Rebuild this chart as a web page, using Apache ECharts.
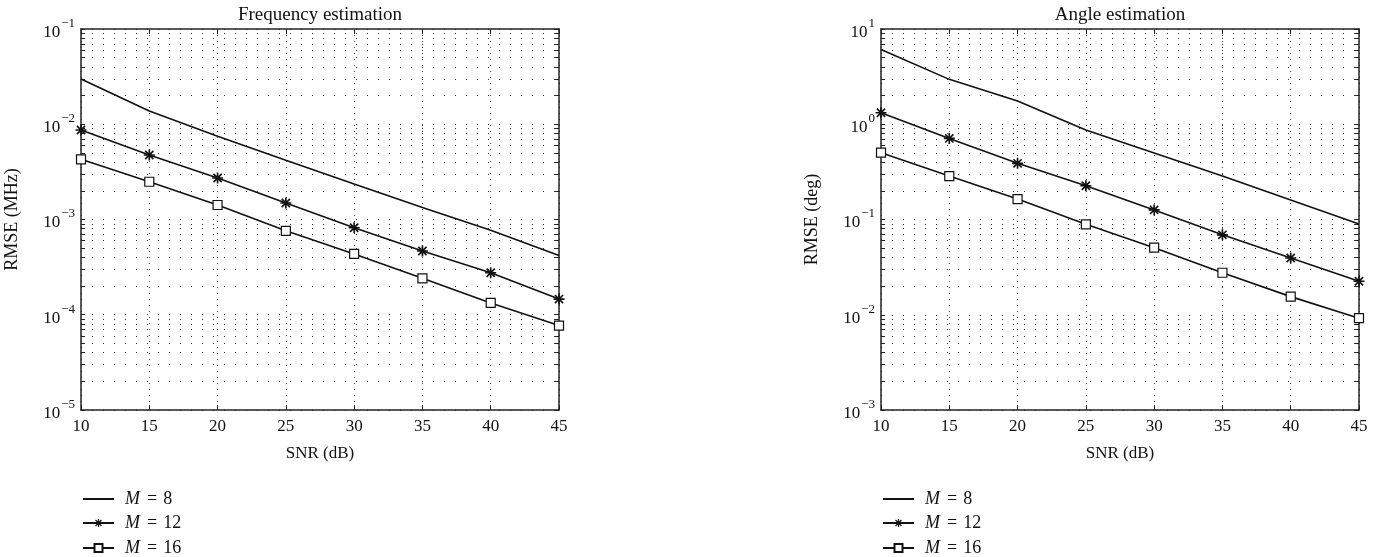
<!DOCTYPE html>
<html>
<head>
<meta charset="utf-8">
<script src="https://cdn.jsdelivr.net/npm/echarts@6/dist/echarts.min.js"></script>
<style>
html,body{margin:0;padding:0;background:#fff;}
#c{width:1375px;height:557px;}
</style>
</head>
<body>
<div id="c"></div>
<script>
// ---- data ----
const snr = [10, 15, 20, 25, 30, 35, 40, 45];
const seriesNames = ['M = 8', 'M = 12', 'M = 16'];

const freqM8  = [0.0299, 0.0138, 0.0075, 0.0042, 0.00236, 0.00134, 0.00077, 0.00042];
const freqM12 = [0.0087, 0.00475, 0.00273, 0.00149, 0.00082, 0.000467, 0.000276, 0.000146];
const freqM16 = [0.00428, 0.00249, 0.00142, 0.00076, 0.000435, 0.000241, 0.000133, 0.000077];

const angM8  = [6.1, 2.96, 1.75, 0.87, 0.50, 0.286, 0.160, 0.0897];
const angM12 = [1.32, 0.71, 0.389, 0.226, 0.126, 0.069, 0.0394, 0.0225];
const angM16 = [0.503, 0.286, 0.164, 0.089, 0.0506, 0.0276, 0.0155, 0.0092];

const xTicks = [10, 15, 20, 25, 30, 35, 40, 45];
const freqDecades = [1e-5, 1e-4, 1e-3, 1e-2, 1e-1];
const angDecades  = [1e-3, 1e-2, 1e-1, 1, 10];

const titles = ['Frequency estimation', 'Angle estimation'];
const yNames = ['RMSE (MHz)', 'RMSE (deg)'];
const xName = 'SNR (dB)';

// ---- helpers ----
function withMinors(decades) {
  const out = [];
  for (let i = 0; i < decades.length; i++) {
    out.push(decades[i]);
    if (i < decades.length - 1) {
      for (let k = 2; k <= 9; k++) out.push(+(decades[i] * k).toPrecision(3));
    }
  }
  return out;
}
function pairs(ys) { return snr.map((x, i) => [x, ys[i]]); }

const FONT = '"Liberation Serif", "DejaVu Serif", serif';
const starPath = 'path://M8.5,0 h3 v20 h-3 z M0,8.5 h20 v3 h-20 z M1.5,3.6 L3.6,1.5 L18.5,16.4 L16.4,18.5 Z M16.4,1.5 L18.5,3.6 L3.6,18.5 L1.5,16.4 Z';

function supLabel(v) {
  const e = Math.round(Math.log10(v));
  const s = e < 0 ? '\u2212' + (-e) : String(e);
  return '{b|10}{e|' + s + '}';
}
const supRich = {
  b: { fontFamily: FONT, fontSize: 17, color: '#111', lineHeight: 24, verticalAlign: 'bottom' },
  e: { fontFamily: FONT, fontSize: 13, color: '#111', lineHeight: 14, verticalAlign: 'top', padding: [0, 0, 0, 1] }
};

const gridLefts = [81, 881];
const legendRowCenters = [497, 521, 546];
const decadesList = [freqDecades, angDecades];
const dataList = [[freqM8, freqM12, freqM16], [angM8, angM12, angM16]];

const legends = [];
gridLefts.forEach(l => {
  seriesNames.forEach((n, k) => {
    legends.push({
      orient: 'vertical', left: l + 1, top: legendRowCenters[k] - 7, padding: 0,
      itemWidth: 31, itemHeight: 10, itemGap: 0,
      data: [n],
      formatter: s => '{i|M}{q|=}{t|' + s.split('= ')[1] + '}',
      textStyle: {
        padding: [0, 0, 0, 6],
        rich: {
          i: { fontFamily: FONT, fontSize: 18, lineHeight: 14, fontStyle: 'italic', color: '#111' },
          q: { fontFamily: FONT, fontSize: 18, lineHeight: 14, color: '#111', padding: [0, 6, 0, 7] },
          t: { fontFamily: FONT, fontSize: 18, lineHeight: 14, color: '#111' }
        }
      },
      selectedMode: false
    });
  });
});

const option = {
  animation: false,
  backgroundColor: '#fff',
  title: titles.map((t, i) => ({
    text: t, left: gridLefts[i] + 239, top: 6, textAlign: 'center', padding: 0,
    textStyle: { fontFamily: FONT, fontSize: 19, fontWeight: 'normal', color: '#111' }
  })),
  grid: gridLefts.map(l => ({ left: l, top: 29, width: 478, height: 381 })),
  legend: legends,
  xAxis: [],
  yAxis: [],
  series: []
};

[0, 1].forEach(g => {
  const decs = decadesList[g];
  const all = withMinors(decs);
  option.xAxis.push({
    type: 'value', gridIndex: g, min: 10, max: 45, interval: 5, position: 'bottom',
    name: xName, nameLocation: 'middle', nameGap: 35,
    nameTextStyle: { fontFamily: FONT, fontSize: 17, color: '#111' },
    axisLine: { show: true, onZero: false, lineStyle: { color: '#222', width: 1.5 } },
    axisTick: { show: true, inside: true, length: 5, lineStyle: { color: '#222' } },
    axisLabel: { fontFamily: FONT, fontSize: 17, color: '#111', margin: 8, customValues: xTicks },
    splitLine: { show: true, lineStyle: { color: '#444', type: [1, 5], width: 1 } }
  });
  option.xAxis.push({
    type: 'value', gridIndex: g, min: 10, max: 45, interval: 5, position: 'top',
    axisLine: { show: true, onZero: false, lineStyle: { color: '#222', width: 1.5 } },
    axisTick: { show: true, inside: true, length: 5, lineStyle: { color: '#222' } },
    axisLabel: { show: false }, splitLine: { show: false }
  });
  option.yAxis.push({
    type: 'log', logBase: 10, gridIndex: g, min: decs[0], max: decs[decs.length - 1], position: 'left',
    name: yNames[g], nameLocation: 'middle', nameGap: 60, nameRotate: 90,
    nameTextStyle: { fontFamily: FONT, fontSize: 18, color: '#111' },
    axisLine: { show: true, onZero: false, lineStyle: { color: '#222', width: 1.5 } },
    axisTick: { show: true, inside: true, length: 4, customValues: all, lineStyle: { color: '#222' } },
    axisLabel: { margin: 6, customValues: decs, formatter: supLabel, rich: supRich },
    splitLine: { show: true, lineStyle: { color: '#333', type: [1, 10], width: 1 } },
    minorTick: { show: false }
  });
  option.yAxis.push({
    type: 'log', logBase: 10, gridIndex: g, min: decs[0], max: decs[decs.length - 1], position: 'right',
    axisLine: { show: true, onZero: false, lineStyle: { color: '#222', width: 1.5 } },
    axisTick: { show: true, inside: true, length: 4, customValues: all, lineStyle: { color: '#222' } },
    axisLabel: { show: false }, splitLine: { show: false }
  });

  const xi = g * 2, yi = g * 2;
  const d = dataList[g];
  option.series.push({
    name: seriesNames[0], type: 'line', xAxisIndex: xi, yAxisIndex: yi,
    data: pairs(d[0]), symbol: 'circle', showSymbol: false, smooth: false,
    lineStyle: { color: '#111', width: 1.6 }, itemStyle: { color: 'rgba(0,0,0,0)' }
  });
  option.series.push({
    name: seriesNames[1], type: 'line', xAxisIndex: xi, yAxisIndex: yi,
    data: pairs(d[1]), symbol: starPath, symbolSize: 11, showSymbol: true,
    lineStyle: { color: '#111', width: 1.6 }, itemStyle: { color: '#111' }
  });
  option.series.push({
    name: seriesNames[2], type: 'line', xAxisIndex: xi, yAxisIndex: yi,
    data: pairs(d[2]), symbol: 'rect', symbolSize: 9, showSymbol: true,
    lineStyle: { color: '#111', width: 1.6 },
    itemStyle: { color: '#fff', borderColor: '#111', borderWidth: 1.2 }
  });
});

const chart = echarts.init(document.getElementById('c'), null, { renderer: 'canvas' });
chart.setOption(option);
</script>
</body>
</html>
